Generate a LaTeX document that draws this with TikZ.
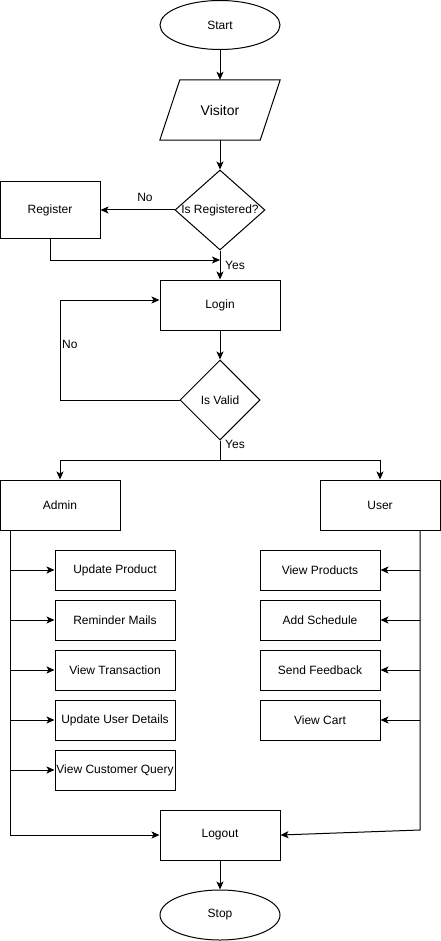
\documentclass[tikz,border=0pt]{standalone}
\usepackage{fontspec}
\setmainfont{Liberation Sans}
\usetikzlibrary{arrows.meta,shapes.geometric}

\begin{document}
\begin{tikzpicture}[x=1pt,y=-1pt,
    font=\fontsize{12}{14}\selectfont,
    term/.style={draw,ellipse,line width=1pt,minimum width=120pt,
                 minimum height=49pt,inner sep=0pt},
    box/.style={draw,line width=1pt,minimum width=120pt,minimum height=50pt,
                inner sep=0pt},
    task/.style={draw,line width=1pt,minimum width=120pt,minimum height=40pt,
                 inner sep=0pt},
    decide/.style={draw,diamond,line width=1pt,inner sep=0pt},
    arr/.style={-{Stealth[length=8pt,width=7pt,inset=2pt]},line width=1pt},
    wire/.style={line width=1pt},
    ann/.style={font=\fontsize{12}{14}\selectfont,inner sep=0pt},
]
\useasboundingbox (0,0) rectangle (441,941);

% ---- Start and visitor -------------------------------------------------
\node[term] (start) at (220,25) {Start};
\node[minimum width=120pt,minimum height=60pt,inner sep=0pt,
      font=\fontsize{14}{16}\selectfont] (visitor) at (220,110) {Visitor};
\draw[line width=1pt] ([xshift=20pt]visitor.north west) -- (visitor.north east)
    -- ([xshift=-20pt]visitor.south east) -- (visitor.south west) -- cycle;
\draw[arr] (start) -- (visitor);

% ---- Registration ------------------------------------------------------
\node[decide,minimum width=90pt,minimum height=80pt,
      label={center:Is Registered?}] (isreg) at (220,210) {};
\node[box,minimum width=100pt,minimum height=56pt] (register) at (50,210) {Register};
\draw[arr] (visitor) -- (isreg);
\draw[arr] (isreg) -- (register.east);
\node[ann] at (145,197) {No};
\coordinate (join) at (220,260);
\draw[arr] (register.south) |- (join);
\node[ann,anchor=west] at (225,265) {Yes};

% ---- Login ---------------------------------------------------------------
\node[box] (login) at (220,305) {Login};
\draw[arr] (isreg) -- (login);
\node[decide,minimum width=80pt,minimum height=80pt,
      label={center:Is Valid}] (valid) at (220,400) {};
\draw[arr] (login) -- (valid);
\coordinate (loop) at (60,400);
\draw[arr] (valid.west) -- (loop) |- ([yshift=5pt]login.west);
\node[ann,anchor=west] at (62,344) {No};
\node[ann,anchor=west] at (225,444) {Yes};

% ---- Admin / user split ----------------------------------------------
\node[box] (admin) at (60,505) {Admin};
\node[box] (user) at (380,505) {User};
\coordinate (split) at (220,460);
\draw[wire] (valid.south) -- (split);
\draw[arr] (split) -| (admin.north);
\draw[arr] (split) -| (user.north);

% ---- Admin tasks ---------------------------------------------------------
\node[task] (upprod) at (115,570) {Update Product};
\node[task] (remind) at (115,620) {Reminder Mails};
\node[task] (vtrans) at (115,670) {View Transaction};
\node[task] (upuser) at (115,720) {Update User Details};
\node[task] (vquery) at (115,770) {View Customer Query};

% ---- User tasks ----------------------------------------------------------
\node[task] (vprod) at (320,570) {View Products};
\node[task] (addsch) at (320,620) {Add Schedule};
\node[task] (sendfb) at (320,670) {Send Feedback};
\node[task] (vcart) at (320,720) {View Cart};

% ---- Logout and stop -----------------------------------------------------
\node[box] (logout) at (220,835) {Logout};
\node[term,minimum height=50pt] (stop) at (220,915) {Stop};
\draw[arr] (logout) -- (stop);

% ---- Buses ---------------------------------------------------------------
\coordinate (lbus) at (10,530);
\coordinate (rbus) at (420,530);
\coordinate (rend) at (420,830);
\draw[arr] (lbus) |- (logout.west);
\draw[arr] (rbus) -- (rend) -- (logout.east);
\foreach \t in {upprod,remind,vtrans,upuser,vquery}
    \draw[arr] (lbus |- \t.west) -- (\t.west);
\foreach \t in {vprod,addsch,sendfb,vcart}
    \draw[arr] (rbus |- \t.east) -- (\t.east);

\end{tikzpicture}
\end{document}
